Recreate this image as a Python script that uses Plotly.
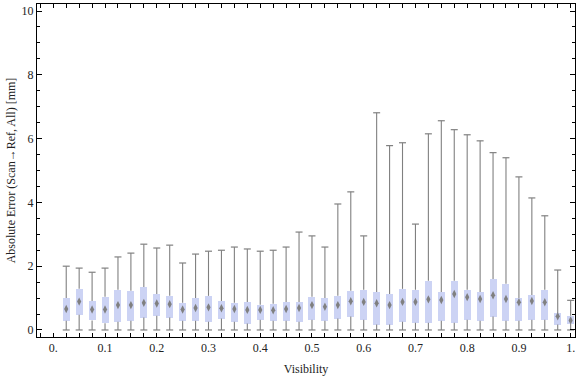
import plotly.graph_objects as go

# Visibility bins (box centres)
visibility = [round(0.025 * (i + 1), 3) for i in range(40)]

whisker_low = [0.0] * 40
whisker_high = [2.00, 1.94, 1.81, 1.94, 2.29, 2.41, 2.69, 2.57, 2.66, 2.10,
                2.38, 2.47, 2.50, 2.60, 2.54, 2.47, 2.50, 2.60, 3.07, 2.95,
                2.60, 3.95, 4.33, 2.95, 6.81, 5.78, 5.87, 3.32, 6.15, 6.56,
                6.28, 6.12, 5.93, 5.56, 5.40, 4.80, 4.14, 3.58, 1.88, 0.93]
q3 = [1.00, 1.29, 0.91, 1.04, 1.26, 1.23, 1.35, 1.13, 1.07, 0.85,
      1.00, 1.07, 0.91, 0.85, 0.88, 0.79, 0.82, 0.88, 0.88, 1.04,
      1.00, 1.07, 1.23, 1.26, 1.19, 1.13, 1.29, 1.26, 1.54, 1.19,
      1.54, 1.26, 1.19, 1.60, 1.45, 1.00, 1.10, 1.26, 0.53, 0.45]
q1 = [0.29, 0.48, 0.30, 0.21, 0.26, 0.29, 0.39, 0.45, 0.39, 0.29,
      0.29, 0.26, 0.36, 0.26, 0.20, 0.32, 0.29, 0.29, 0.26, 0.32,
      0.29, 0.36, 0.42, 0.32, 0.17, 0.17, 0.26, 0.23, 0.23, 0.29,
      0.23, 0.32, 0.29, 0.42, 0.29, 0.29, 0.32, 0.32, 0.17, 0.20]
median = [0.66, 0.89, 0.64, 0.64, 0.78, 0.78, 0.85, 0.83, 0.81, 0.64,
          0.69, 0.71, 0.68, 0.66, 0.63, 0.63, 0.62, 0.66, 0.69, 0.78,
          0.73, 0.78, 0.90, 0.88, 0.84, 0.78, 0.88, 0.88, 0.96, 0.94,
          1.13, 1.03, 0.97, 1.09, 0.97, 0.87, 0.91, 0.87, 0.43, 0.30]

x_tick_vals = [round(0.1 * i, 1) for i in range(11)]
x_tick_text = ["0.", "0.1", "0.2", "0.3", "0.4", "0.5", "0.6", "0.7", "0.8", "0.9", "1."]

GREY = "#808080"
BOX = "#ccd3f4"
FONT = "Liberation Serif"
TXT = "#222222"

# whisker segments (outside the box)
wx, wy = [], []
for x, lo, a, b, hi in zip(visibility, whisker_low, q1, q3, whisker_high):
    wx += [x, x, None, x, x, None]
    wy += [lo, a, None, b, hi, None]

fig = go.Figure()

fig.add_trace(go.Bar(
    x=visibility, y=[b - a for a, b in zip(q1, q3)], base=q1,
    width=0.0135, marker=dict(color=BOX, line=dict(width=0)),
    hoverinfo="skip", showlegend=False,
))

fig.add_trace(go.Scatter(
    x=wx, y=wy, mode="lines", line=dict(color=GREY, width=1.1),
    hoverinfo="skip", showlegend=False,
))

fig.add_trace(go.Scatter(
    x=visibility + visibility, y=whisker_high + whisker_low, mode="markers",
    marker=dict(symbol="line-ew-open", size=5, color=GREY, line=dict(color=GREY, width=1.2)),
    hoverinfo="skip", showlegend=False,
))

fig.add_trace(go.Scatter(
    x=visibility, y=median, mode="markers",
    marker=dict(symbol="diamond-tall", size=6, color=GREY, line=dict(width=0)),
    showlegend=False,
))

fig.update_layout(
    width=576, height=377,
    margin=dict(l=37, r=1, t=4, b=40),
    paper_bgcolor="white", plot_bgcolor="white",
    font=dict(family=FONT, size=12, color=TXT),
    bargap=0,
)

fig.update_xaxes(
    range=[-0.0315, 1.0084], automargin=False,
    tickvals=x_tick_vals, ticktext=x_tick_text,
    ticks="inside", ticklen=4, tickcolor="black", tickwidth=1,
    minor=dict(dtick=0.025, tick0=0, ticks="inside", ticklen=4, tickcolor="black", tickwidth=1),
    showline=True, linecolor="black", linewidth=1, mirror="ticks",
    showgrid=False, zeroline=False,
    tickfont=dict(family=FONT, size=12, color=TXT),
    title=dict(text="Visibility", font=dict(family=FONT, size=12, color=TXT), standoff=10),
)

fig.update_yaxes(
    range=[-0.22, 10.22], automargin=False,
    tickvals=[0, 2, 4, 6, 8, 10],
    ticks="inside", ticklen=5, tickcolor="black", tickwidth=1,
    minor=dict(dtick=0.5, tick0=0, ticks="inside", ticklen=3, tickcolor="black", tickwidth=1),
    showline=True, linecolor="black", linewidth=1, mirror="ticks",
    showgrid=False, zeroline=False,
    tickfont=dict(family=FONT, size=12, color=TXT),
    title=dict(text="Absolute Error (Scan\u2192Ref, All) [mm]",
               font=dict(family=FONT, size=12, color=TXT), standoff=3),
)

fig.write_html("out.html", config={"displayModeBar": False},
               post_script="document.body.style.margin='0px';document.body.style.padding='0px';")
